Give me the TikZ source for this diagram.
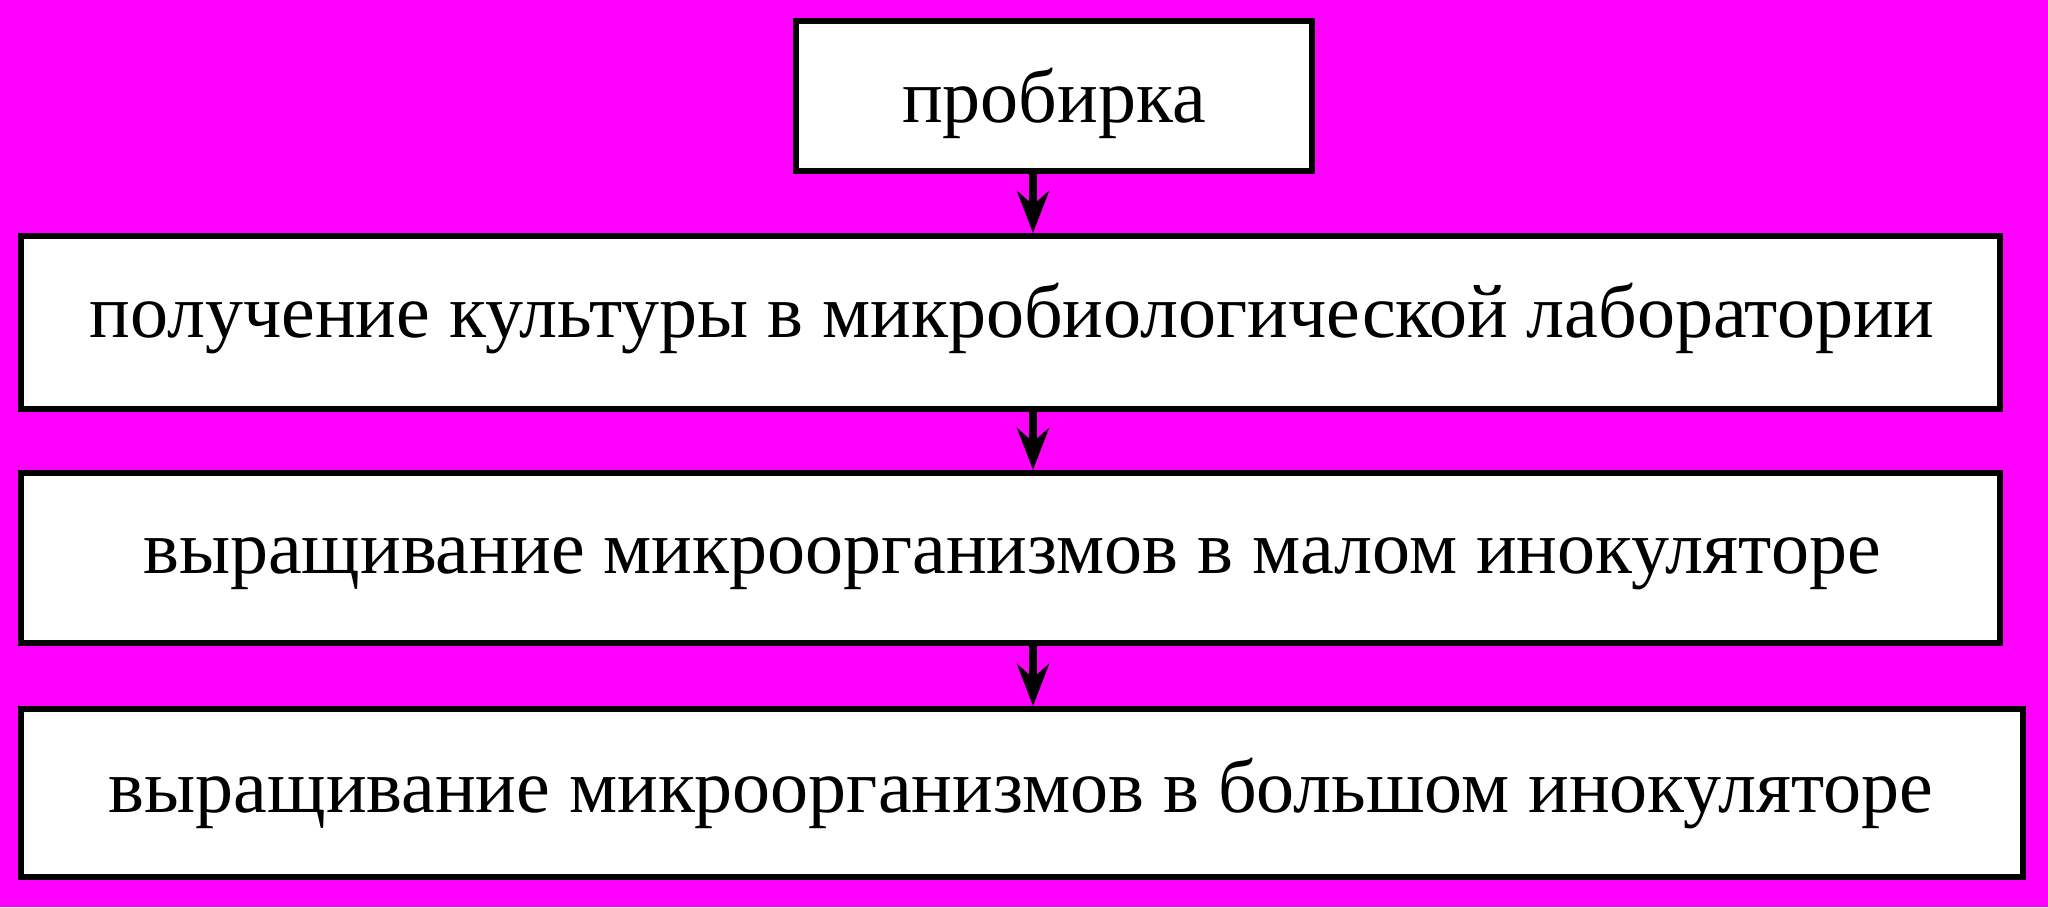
\documentclass[tikz,border=0pt]{standalone}
\usepackage{fontspec}
\setmainfont{Liberation Serif}
\usetikzlibrary{arrows.meta}
\definecolor{bgmag}{HTML}{FF00FF}
\begin{document}
\begin{tikzpicture}[x=0.5pt,y=-0.5pt,
  box/.style={draw=black, fill=white, line width=3pt, rectangle, inner sep=0pt},
  lbl/.style={anchor=base, inner sep=0pt, font=\fontsize{38pt}{44pt}\selectfont},
  arr/.style={line width=4pt, -{Stealth[length=21pt, width=16pt, inset=7pt]}}]
\fill[bgmag] (0,0) rectangle (2048,907);
\useasboundingbox (0,0) rectangle (2048,907);
\node[box, minimum width=258pt, minimum height=75pt] (b1) at (1054,96) {};
\node[box, minimum width=989.5pt, minimum height=86.5pt] (b2) at (1010.5,322.5) {};
\node[box, minimum width=989.5pt, minimum height=85pt] (b3) at (1010.5,558) {};
\node[box, minimum width=1001pt, minimum height=84pt] (b4) at (1022,793) {};
\node[lbl] (t1) at (1054,122) {пробирка};
\node[lbl] (t2) at (1012,337) {получение культуры в микробиологической лаборатории};
\node[lbl] (t3) at (1012,573) {выращивание микроорганизмов в малом инокуляторе};
\node[lbl] (t4) at (1021,812) {выращивание микроорганизмов в большом инокуляторе};
\coordinate (ax) at (1033,0);
\draw[arr] (b1.south -| ax) -- (b2.north -| ax);
\draw[arr] (b2.south -| ax) -- (b3.north -| ax);
\draw[arr] (b3.south -| ax) -- (b4.north -| ax);
\end{tikzpicture}
\end{document}
